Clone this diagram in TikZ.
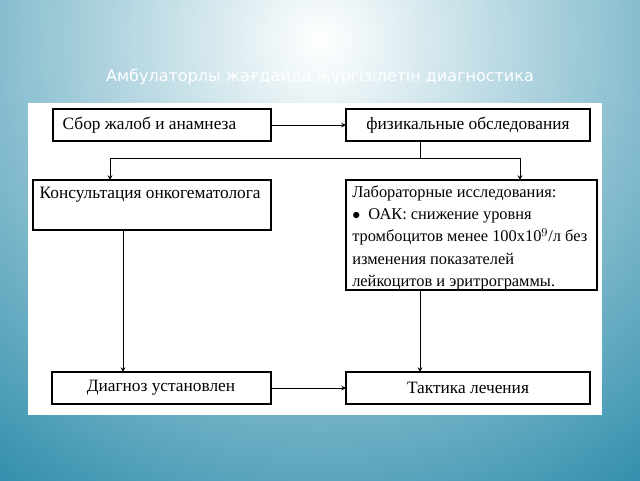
\documentclass[tikz,border=0pt]{standalone}
\usepackage{fontspec}
\setmainfont{Liberation Serif}
\newfontfamily\titlefont{DejaVu Sans}
\usetikzlibrary{positioning}
\definecolor{slidebg}{RGB}{45,140,170}
\tikzset{
    box/.style={line width=0.8pt},
    boxtext/.style={font=\fontsize{13}{13}\selectfont},
    link/.style={->, >=stealth, line width=0.6pt}
}
\begin{document}
\begin{tikzpicture}[x=0.75pt, y=-0.75pt]
    \useasboundingbox (0,0) rectangle (640,480);
    \clip (0,0) rectangle (640,480);
    \fill[slidebg] (0,0) rectangle (640,480);
    \shade[inner color=white, outer color=slidebg] (320,40) circle (560);
    \node[text=white, font=\titlefont\fontsize{12}{14}\selectfont] (title) at (320,77) {Амбулаторлы жағдайда жүргізілетін диагностика};
    \fill[white] (28,103) rectangle (602,415);

    % boxes
    \draw[box] (53,109) rectangle (271,141);
    \node[boxtext, anchor=west] (complaint) at (58,125) {Сбор жалоб и анамнеза};
    \coordinate (complaintE) at (271,125);
    \draw[box] (346,109) rectangle (590,141);
    \node[boxtext] (exam) at (468,125) {физикальные обследования};
    \coordinate (examW) at (346,125);
    \coordinate (examS) at (420,141);
    \draw[box] (33,180) rectangle (271,230);
    \node[boxtext, anchor=north west] (consult) at (35,182) {Консультация онкогематолога};
    \draw[box] (346,180) rectangle (597,290);
    \node[font=\fontsize{12.3}{16.8}\selectfont, anchor=north west, align=left, inner sep=0pt] (lab) at (352,185)
        {Лабораторные исследования:\\$\bullet$\ \ ОАК: снижение уровня\\тромбоцитов менее 100х10$^{9}$/л без\\изменения показателей\\лейкоцитов и эритрограммы.};
    \draw[box] (52,372) rectangle (271,404);
    \node[boxtext] (diag) at (161,388) {Диагноз установлен};
    \draw[box] (346,372) rectangle (590,404);
    \node[boxtext] (tactic) at (468,388) {Тактика лечения};

    % connectors
    \coordinate (consultN) at (110,180);
    \coordinate (labN) at (520,180);
    \coordinate (consultS) at (123,230);
    \coordinate (diagN) at (123,372);
    \coordinate (labS) at (420,290);
    \coordinate (tacticN) at (420,372);
    \coordinate (diagE) at (271,388);
    \coordinate (tacticW) at (346,388);
    \draw[link] (complaintE) -- (examW);
    \draw[line width=0.6pt] (examS) -- (420,158);
    \draw[line width=0.6pt] (110,158) -- (520,158);
    \draw[link] (110,158) -- (consultN);
    \draw[link] (520,158) -- (labN);
    \draw[link] (consultS) -- (diagN);
    \draw[link] (labS) -- (tacticN);
    \draw[link] (diagE) -- (tacticW);
\end{tikzpicture}
\end{document}
